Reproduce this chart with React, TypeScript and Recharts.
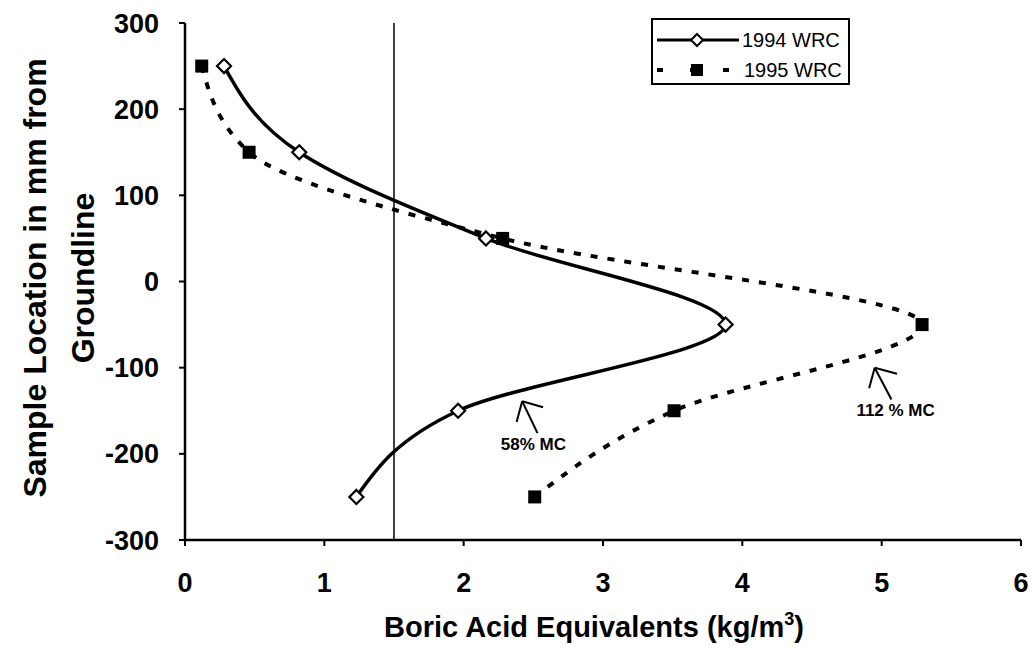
import React from 'react';
import {
  ScatterChart,
  Scatter,
  XAxis,
  YAxis,
  ReferenceLine,
  ReferenceDot,
} from 'recharts';

// sample depth (mm from groundline)
const depths = [250, 150, 50, -50, -150, -250];
// boric acid equivalents, kg/m3
const wrc1994 = [0.28, 0.82, 2.16, 3.88, 1.96, 1.23];
const wrc1995 = [0.12, 0.46, 2.28, 5.29, 3.51, 2.51];

const xTicks = [0, 1, 2, 3, 4, 5, 6];
const yTicks = [-300, -200, -100, 0, 100, 200, 300];

const threshold = 1.5;

const data1994 = depths.map((y, i) => ({ x: wrc1994[i], y }));
const data1995 = depths.map((y, i) => ({ x: wrc1995[i], y }));

const FONT = 'Arial, "Liberation Sans", sans-serif';

const Diamond = (p: any) => {
  const { cx, cy } = p;
  const r = 7;
  return (
    <polygon
      points={`${cx},${cy - r} ${cx + r},${cy} ${cx},${cy + r} ${cx - r},${cy}`}
      fill="#fff"
      stroke="#000"
      strokeWidth={2.2}
    />
  );
};

const Square = (p: any) => {
  const { cx, cy } = p;
  const s = 13;
  return <rect x={cx - s / 2} y={cy - s / 2} width={s} height={s} fill="#000" />;
};

const NoteText = (text: string) => (p: any) => (
  <text
    x={p.cx}
    y={p.cy}
    textAnchor="middle"
    dominantBaseline="middle"
    fontFamily={FONT}
    fontWeight="bold"
    fontSize={17}
    fill="#000"
  >
    {text}
  </text>
);

const YLabel = () => {
  const cy = 278;
  return (
    <g fontFamily={FONT} fontWeight="bold" fontSize={32} fill="#000">
      <text x={38} y={cy} textAnchor="middle" dominantBaseline="middle" transform={`rotate(-90 38 ${cy})`}>
        Sample Location in mm from
      </text>
      <text x={86} y={cy} textAnchor="middle" dominantBaseline="middle" transform={`rotate(-90 86 ${cy})`}>
        Groundline
      </text>
    </g>
  );
};

const XLabel = () => (
  <text x={594} y={637} textAnchor="middle" fontFamily={FONT} fontWeight="bold" fontSize={29} fill="#000">
    Boric Acid Equivalents (kg/m
    <tspan fontSize={18} dy={-12}>3</tspan>
    <tspan dy={12}>)</tspan>
  </text>
);

// legend box, drawn over the chart like the original
const LegendBox = () => (
  <svg width={200} height={68} style={{ position: 'absolute', left: 651, top: 18, display: 'block' }}>
    <rect x={1} y={1} width={197} height={65} fill="#fff" stroke="#000" strokeWidth={2} />
    <line x1={6} y1={22} x2={88} y2={22} stroke="#000" strokeWidth={3} />
    <polygon points="46,16 52,22 46,28 40,22" fill="#fff" stroke="#000" strokeWidth={2} />
    <text x={91} y={29} fontFamily={FONT} fontSize={20} fill="#000">1994 WRC</text>
    <line x1={6} y1={52} x2={88} y2={52} stroke="#000" strokeWidth={4} strokeDasharray="6 27" />
    <rect x={40} y={46} width={12} height={12} fill="#000" />
    <text x={93} y={59} fontFamily={FONT} fontSize={20} fill="#000">1995 WRC</text>
  </svg>
);

export default function App() {
  return (
    <div style={{ position: 'absolute', left: 0, top: 0, width: 1031, height: 649, background: '#fff' }}>
      <ScatterChart width={1031} height={649} margin={{ top: 23, right: 10, bottom: 0, left: 0 }}>
        <XAxis
          type="number"
          dataKey="x"
          domain={[0, 6]}
          ticks={xTicks}
          height={109}
          axisLine={{ stroke: '#000', strokeWidth: 2.5 }}
          tickLine={{ stroke: '#000', strokeWidth: 2 }}
          tickSize={6}
          tickMargin={27}
          tick={{ fill: '#000', fontSize: 27, fontWeight: 'bold', fontFamily: FONT }}
          label={<XLabel />}
        />
        <YAxis
          type="number"
          dataKey="y"
          domain={[-300, 300]}
          ticks={yTicks}
          width={185}
          axisLine={{ stroke: '#000', strokeWidth: 2.5 }}
          tickLine={{ stroke: '#000', strokeWidth: 2 }}
          tickSize={6}
          tickMargin={20}
          tick={{ fill: '#000', fontSize: 27, fontWeight: 'bold', fontFamily: FONT }}
          label={<YLabel />}
        />
        <ReferenceLine x={threshold} stroke="#000" strokeWidth={1.5} />

        <Scatter
          name="1994 WRC"
          data={data1994}
          fill="#000"
          line={{ stroke: '#000', strokeWidth: 3.5 }}
          lineJointType="monotoneY"
          shape={<Diamond />}
          isAnimationActive={false}
        />
        <Scatter
          name="1995 WRC"
          data={data1995}
          fill="#000"
          line={{ stroke: '#000', strokeWidth: 4, strokeDasharray: '7 10' }}
          lineJointType="monotoneY"
          shape={<Square />}
          isAnimationActive={false}
        />

        {/* 58% MC arrow */}
        <ReferenceLine segment={[{ x: 2.42, y: -139 }, { x: 2.53, y: -176 }]} stroke="#000" strokeWidth={2} />
        <ReferenceLine segment={[{ x: 2.42, y: -139 }, { x: 2.38, y: -163 }]} stroke="#000" strokeWidth={2} />
        <ReferenceLine segment={[{ x: 2.42, y: -139 }, { x: 2.57, y: -146 }]} stroke="#000" strokeWidth={2} />
        <ReferenceDot x={2.5} y={-190} r={0} shape={NoteText('58% MC')} />

        {/* 112 % MC arrow */}
        <ReferenceLine segment={[{ x: 4.95, y: -100 }, { x: 5.07, y: -137 }]} stroke="#000" strokeWidth={2} />
        <ReferenceLine segment={[{ x: 4.95, y: -100 }, { x: 4.91, y: -124 }]} stroke="#000" strokeWidth={2} />
        <ReferenceLine segment={[{ x: 4.95, y: -100 }, { x: 5.11, y: -107 }]} stroke="#000" strokeWidth={2} />
        <ReferenceDot x={5.1} y={-151} r={0} shape={NoteText('112 % MC')} />
      </ScatterChart>
      <LegendBox />
    </div>
  );
}
